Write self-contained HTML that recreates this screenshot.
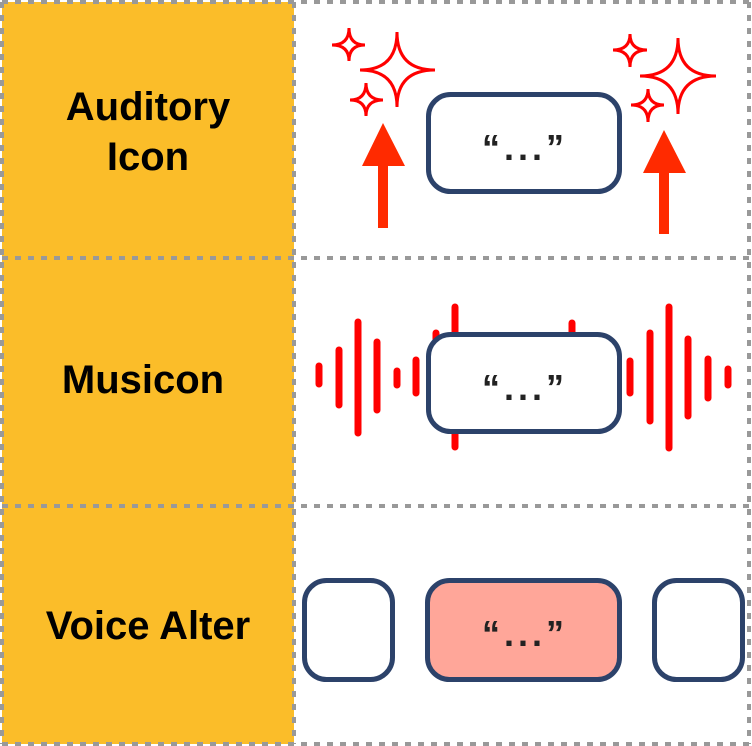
<!DOCTYPE html>
<html><head><meta charset="utf-8"><style>
html,body{margin:0;padding:0;background:#fff;width:752px;height:746px;overflow:hidden}
text{font-family:"Liberation Sans",sans-serif;font-weight:bold}
</style></head><body>
<svg width="752" height="746" viewBox="0 0 752 746" xmlns="http://www.w3.org/2000/svg">
<rect x="2" y="2" width="292" height="742" fill="#FBBD29"/>
<g stroke="#999" stroke-width="4" stroke-dasharray="6 7" fill="none">
<line x1="2" y1="2" x2="750" y2="2"/>
<line x1="2" y1="744" x2="750" y2="744"/>
<line x1="2" y1="258" x2="750" y2="258"/>
<line x1="2" y1="506" x2="750" y2="506"/>
<line x1="2" y1="2" x2="2" y2="744"/>
<line x1="294" y1="2" x2="294" y2="744"/>
<line x1="749" y1="2" x2="749" y2="744"/>
</g>
<g font-size="40" fill="#000" text-anchor="middle">
<text x="148" y="120">Auditory</text>
<text x="148" y="170">Icon</text>
<text x="143" y="393">Musicon</text>
<text x="148" y="639">Voice Alter</text>
</g>
<g fill="none" stroke="#f00" stroke-width="3" stroke-linecap="round">
<path d="M397 32 Q397 70 435 70 Q397 70 397 107 Q397 70 360 70 Q397 70 397 32Z"/>
<path d="M349 28 Q349 45 365 45 Q349 45 349 61 Q349 45 332 45 Q349 45 349 28Z"/>
<path d="M366 83 Q366 100 383 100 Q366 100 366 116 Q366 100 350 100 Q366 100 366 83Z"/>
<path d="M678 38 Q678 76 716 76 Q678 76 678 114 Q678 76 640 76 Q678 76 678 38Z"/>
<path d="M630 34 Q630 50 647 50 Q630 50 630 67 Q630 50 613 50 Q630 50 630 34Z"/>
<path d="M648 89 Q648 105 664 105 Q648 105 648 122 Q648 105 631 105 Q648 105 648 89Z"/>
</g>
<g fill="#FF2A00">
<polygon points="383,123 405,166 362,166"/><rect x="378" y="165" width="10" height="63"/>
<polygon points="664,130 686,173 643,173"/><rect x="659" y="172" width="10" height="62"/>
</g>
<g stroke="#f00" stroke-width="7" stroke-linecap="round">
<line x1="319" y1="366" x2="319" y2="384"/>
<line x1="339" y1="350" x2="339" y2="405"/>
<line x1="358" y1="322" x2="358" y2="433"/>
<line x1="377" y1="342" x2="377" y2="410"/>
<line x1="397" y1="371" x2="397" y2="385"/>
<line x1="416" y1="360" x2="416" y2="393"/>
<line x1="436" y1="333" x2="436" y2="400"/>
<line x1="455" y1="307" x2="455" y2="447"/>
<line x1="572" y1="323" x2="572" y2="400"/>
<line x1="630" y1="361" x2="630" y2="393"/>
<line x1="650" y1="333" x2="650" y2="421"/>
<line x1="669" y1="307" x2="669" y2="448"/>
<line x1="688" y1="339" x2="688" y2="416"/>
<line x1="708" y1="359" x2="708" y2="398"/>
<line x1="728" y1="369" x2="728" y2="385"/>
</g>
<g stroke="#2C426A" stroke-width="5">
<rect x="428.5" y="94.5" width="191" height="97" rx="22" fill="#fff"/>
<rect x="428.5" y="334.5" width="191" height="97" rx="22" fill="#fff"/>
<rect x="304.5" y="580.5" width="88" height="99" rx="22" fill="#fff"/>
<rect x="427.5" y="580.5" width="192" height="99" rx="22" fill="#FFA699"/>
<rect x="654.5" y="580.5" width="88" height="99" rx="22" fill="#fff"/>
</g>
<g font-size="36" fill="#222" text-anchor="middle" letter-spacing="4">
<text x="525" y="160">“...”</text>
<text x="525" y="400">“...”</text>
<text x="525" y="646">“...”</text>
</g>
</svg>
</body></html>
